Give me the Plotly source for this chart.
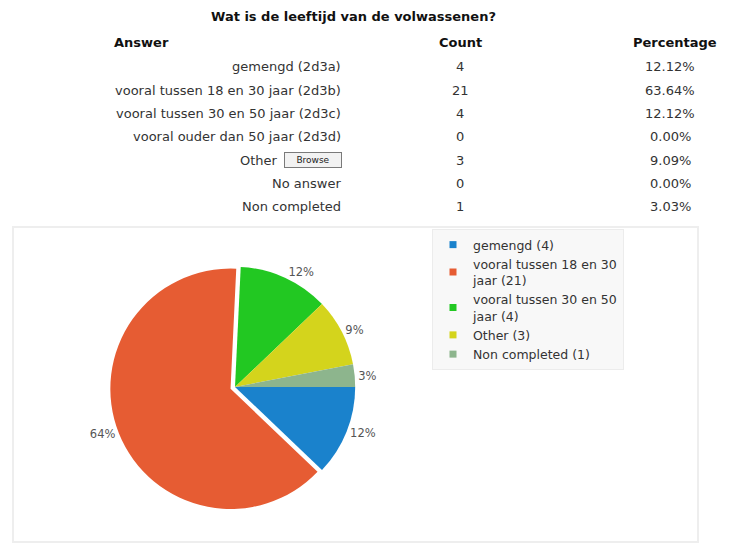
import plotly.graph_objects as go

W, H = 733, 554

title = "Wat is de leeftijd van de volwassenen?"
headers = ["Answer", "Count", "Percentage"]
answers = ["gemengd (2d3a)", "vooral tussen 18 en 30 jaar (2d3b)", "vooral tussen 30 en 50 jaar (2d3c)",
           "vooral ouder dan 50 jaar (2d3d)", "Other", "No answer", "Non completed"]
counts = [4, 21, 4, 0, 3, 0, 1]
percentages = ["12.12%", "63.64%", "12.12%", "0.00%", "9.09%", "0.00%", "3.03%"]

pie_labels = ["gemengd (4)", "vooral tussen 18 en 30<br>jaar (21)", "vooral tussen 30 en 50<br>jaar (4)",
              "Other (3)", "Non completed (1)"]
pie_values = [4, 21, 4, 3, 1]
pie_colors = ["#1a82cc", "#e65c33", "#22c822", "#d4d41c", "#8db58d"]
pie_pull = [0, 0.04, 0, 0, 0]

def px(x):
    return x / W

def py(y):
    return 1 - y / H

FONT = "DejaVu Sans, Verdana, sans-serif"
TXT = "#333333"

fig = go.Figure()
fig.add_trace(go.Pie(
    labels=pie_labels, values=pie_values, sort=False, direction="clockwise", rotation=90,
    marker=dict(colors=pie_colors, line=dict(width=0)),
    pull=pie_pull,
    texttemplate="%{percent:.0%}", textposition="outside",
    textfont=dict(family=FONT, size=11.5, color="#555555"),
    domain=dict(x=[px(40), px(430)], y=[py(512), py(262)]),
    hoverinfo="label+value+percent",
    showlegend=False,
))
# legend entries (small square keys, as in the reference)
for lab, col in zip(pie_labels, pie_colors):
    fig.add_trace(go.Scatter(x=[None], y=[None], mode="markers", name=lab,
                             marker=dict(symbol="square", size=7, color=col),
                             showlegend=True, hoverinfo="skip"))

ann = []
ann.append(dict(text="<b>" + title + "</b>", x=px(353), y=py(17), xanchor="center", yanchor="middle",
                font=dict(size=13, family=FONT, color="#111111")))
ann.append(dict(text="<b>" + headers[0] + "</b>", x=px(112), y=py(43), xanchor="left", yanchor="middle",
                font=dict(size=13, family=FONT, color="#111111")))
ann.append(dict(text="<b>" + headers[1] + "</b>", x=px(460), y=py(43), xanchor="center", yanchor="middle",
                font=dict(size=13, family=FONT, color="#111111")))
ann.append(dict(text="<b>" + headers[2] + "</b>", x=px(675), y=py(43), xanchor="center", yanchor="middle",
                font=dict(size=13, family=FONT, color="#111111")))

row0, dy = 67, 23.3
for i, (a, c, p) in enumerate(zip(answers, counts, percentages)):
    y = row0 + i * dy
    if a == "Other":
        ann.append(dict(text=a, x=px(280), y=py(y), xanchor="right", yanchor="middle",
                        font=dict(size=13, family=FONT, color=TXT)))
        ann.append(dict(text="Browse", x=px(313), y=py(y), xanchor="center", yanchor="middle",
                        font=dict(size=9, family=FONT, color="#222222"),
                        bgcolor="#f2f2f2", bordercolor="#7a7a7a", borderwidth=1, borderpad=2,
                        width=52))
    else:
        ann.append(dict(text=a, x=px(343), y=py(y), xanchor="right", yanchor="middle",
                        font=dict(size=13, family=FONT, color=TXT)))
    ann.append(dict(text=str(c), x=px(460), y=py(y), xanchor="center", yanchor="middle",
                    font=dict(size=13, family=FONT, color=TXT)))
    ann.append(dict(text=p, x=px(670), y=py(y), xanchor="center", yanchor="middle",
                    font=dict(size=13, family=FONT, color=TXT)))

for a in ann:
    a.update(xref="paper", yref="paper", showarrow=False)

fig.update_layout(
    width=W, height=H,
    margin=dict(l=0, r=0, t=0, b=0, pad=0, autoexpand=False),
    paper_bgcolor="white", plot_bgcolor="white",
    xaxis=dict(visible=False), yaxis=dict(visible=False),
    annotations=ann,
    shapes=[dict(type="rect", xref="paper", yref="paper", x0=px(13), x1=px(698), y0=py(542), y1=py(227),
                 line=dict(color="#eeeeee", width=2), fillcolor="rgba(0,0,0,0)", layer="below")],
    legend=dict(x=px(432), y=py(229), xanchor="left", yanchor="top",
                bgcolor="#f8f8f8", bordercolor="#ececec", borderwidth=1,
                font=dict(family=FONT, size=12.5, color="#333333"),
                itemwidth=30, tracegroupgap=0, traceorder="normal"),
    showlegend=True,
)

fig.write_html("out.html", config={"displayModeBar": False},
               post_script="document.body.style.margin='0px';")
